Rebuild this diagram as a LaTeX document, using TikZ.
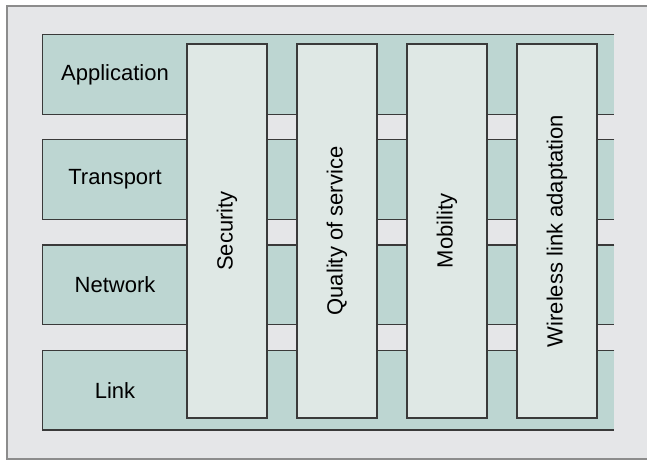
\documentclass[tikz,border=0pt]{standalone}
\usepackage{fontspec}
\setmainfont{Liberation Sans}
\definecolor{bg}{HTML}{E5E6E8}
\definecolor{framegray}{HTML}{8C8C8C}
\definecolor{layerfill}{HTML}{BDD6D2}
\definecolor{svcfill}{HTML}{DFE8E5}
\definecolor{edge}{HTML}{3A3A3A}

\begin{document}
\begin{tikzpicture}[x=0.5pt,y=-0.5pt,
  layer/.style={fill=layerfill,minimum width=285.5pt,minimum height=39.5pt,inner sep=0pt},
  rim/.style={draw=edge,line width=0.6pt},
  service/.style={rim,fill=svcfill,minimum width=40pt,minimum height=187pt,inner sep=0pt},
  lbl/.style={font=\fontsize{11}{13}\selectfont,inner sep=0pt}]
  \useasboundingbox (0,0) rectangle (647,460);
  % grey frame, open on the right
  \draw[draw=framegray,fill=bg,line width=0.8pt] (7,6) rectangle (670,459);
  % protocol layers
  \foreach \name/\txt [count=\i from 0] in {app/Application,trans/Transport,net/Network,link/Link}{
    \node[layer] (\name) at (328.5,74.5+105.2*\i) {};
    \draw[rim] (\name.north east) -- (\name.north west) -- (\name.south west) -- (\name.south east);
    \node[lbl] (\name-lbl) at (115,74.5+105.2*\i) {\txt};
  }
  % cross-layer functions
  \foreach \name/\txt [count=\i from 0] in {sec/Security,qos/Quality of service,mob/Mobility,wla/Wireless link adaptation}{
    \node[service] (\name) at (227+110*\i,231) {};
    \node[lbl,rotate=90] (\name-lbl) at (\name) {\txt};
  }
\end{tikzpicture}
\end{document}
